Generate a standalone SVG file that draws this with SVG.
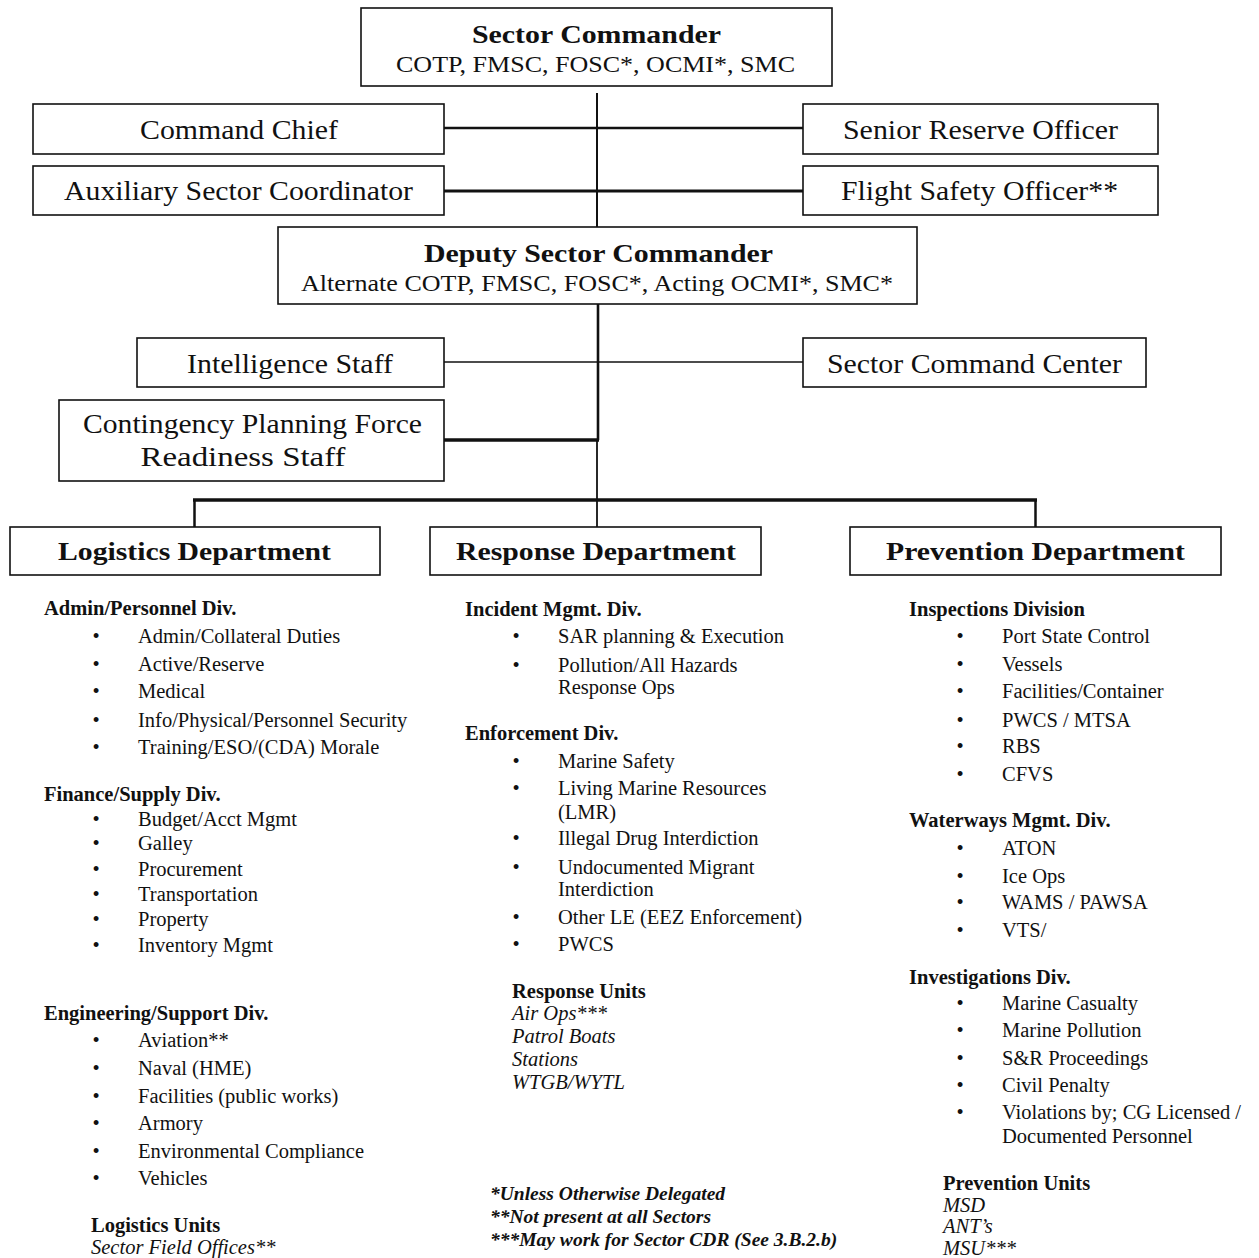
<svg xmlns="http://www.w3.org/2000/svg" width="1259" height="1258" viewBox="0 0 1259 1258">
<style>
.bg{fill:#fff}
.box{fill:#fff;stroke:#111;stroke-width:1.6}
.bt{font-family:"Liberation Serif","Times New Roman",serif;fill:#111;text-anchor:middle}
.b{font-weight:bold}
.ln{stroke:#111;fill:none}
.t{font-family:"Liberation Serif","Times New Roman",serif;font-size:20.5px;fill:#111}
.h{font-weight:bold}
.i{font-style:italic}
.fn{font-style:italic;font-weight:bold;font-size:19.5px}
.bul{text-anchor:middle}
</style>
<rect class="bg" x="0" y="0" width="1259" height="1258"/>

<g id="connectors">
<line class="ln" x1="597" y1="93" x2="597" y2="227" stroke-width="2"/>
<line class="ln" x1="444" y1="128" x2="803" y2="128" stroke-width="2.6"/>
<line class="ln" x1="444" y1="191" x2="803" y2="191" stroke-width="3"/>
<line class="ln" x1="598" y1="304" x2="598" y2="440" stroke-width="2.6"/>
<line class="ln" x1="597" y1="440" x2="597" y2="527" stroke-width="1.8"/>
<line class="ln" x1="444" y1="362" x2="803" y2="362" stroke-width="1.5"/>
<line class="ln" x1="444" y1="440" x2="599" y2="440" stroke-width="3.5"/>
<line class="ln" x1="193" y1="500" x2="1037" y2="500" stroke-width="3.5"/>
<line class="ln" x1="194.5" y1="500" x2="194.5" y2="527" stroke-width="2.5"/>
<line class="ln" x1="1035.5" y1="500" x2="1035.5" y2="527" stroke-width="2.5"/>
</g>

<g id="sector-commander">
<rect class="box" x="361" y="8" width="471" height="78"/>
<text class="bt b" x="596.5" y="43" font-size="25" textLength="249" lengthAdjust="spacingAndGlyphs">Sector Commander</text>
<text class="bt" x="595.5" y="72" font-size="24" textLength="399" lengthAdjust="spacingAndGlyphs">COTP, FMSC, FOSC*, OCMI*, SMC</text>
</g>

<g id="command-chief">
<rect class="box" x="33" y="104" width="411" height="50"/>
<text class="bt" x="239" y="139" font-size="27" textLength="198" lengthAdjust="spacingAndGlyphs">Command Chief</text>
</g>

<g id="senior-reserve-officer">
<rect class="box" x="803" y="104" width="355" height="50"/>
<text class="bt" x="980.5" y="139" font-size="27" textLength="275" lengthAdjust="spacingAndGlyphs">Senior Reserve Officer</text>
</g>

<g id="auxiliary-sector-coordinator">
<rect class="box" x="33" y="166" width="411" height="49"/>
<text class="bt" x="238.5" y="200" font-size="27" textLength="349" lengthAdjust="spacingAndGlyphs">Auxiliary Sector Coordinator</text>
</g>

<g id="flight-safety-officer">
<rect class="box" x="803" y="166" width="355" height="49"/>
<text class="bt" x="979.5" y="200" font-size="27" textLength="277" lengthAdjust="spacingAndGlyphs">Flight Safety Officer**</text>
</g>

<g id="deputy-sector-commander">
<rect class="box" x="278" y="227" width="639" height="77"/>
<text class="bt b" x="598.5" y="262" font-size="25" textLength="349" lengthAdjust="spacingAndGlyphs">Deputy Sector Commander</text>
<text class="bt" x="597" y="291" font-size="24" textLength="592" lengthAdjust="spacingAndGlyphs">Alternate COTP, FMSC, FOSC*, Acting OCMI*, SMC*</text>
</g>

<g id="intelligence-staff">
<rect class="box" x="137" y="338" width="307" height="49"/>
<text class="bt" x="290" y="373" font-size="27" textLength="206" lengthAdjust="spacingAndGlyphs">Intelligence Staff</text>
</g>

<g id="sector-command-center">
<rect class="box" x="803" y="338" width="343" height="49"/>
<text class="bt" x="974.5" y="373" font-size="27" textLength="295" lengthAdjust="spacingAndGlyphs">Sector Command Center</text>
</g>

<g id="contingency-planning">
<rect class="box" x="59" y="400" width="385" height="81"/>
<text class="bt" x="252.5" y="433" font-size="27" textLength="339" lengthAdjust="spacingAndGlyphs">Contingency Planning Force</text>
<text class="bt" x="243" y="466" font-size="27" textLength="205" lengthAdjust="spacingAndGlyphs">Readiness Staff</text>
</g>

<g id="logistics-department">
<rect class="box" x="10" y="527" width="370" height="48"/>
<text class="bt b" x="194.5" y="560" font-size="26" textLength="273" lengthAdjust="spacingAndGlyphs">Logistics Department</text>
</g>

<g id="response-department">
<rect class="box" x="430" y="527" width="331" height="48"/>
<text class="bt b" x="596" y="560" font-size="26" textLength="280" lengthAdjust="spacingAndGlyphs">Response Department</text>
</g>

<g id="prevention-department">
<rect class="box" x="850" y="527" width="371" height="48"/>
<text class="bt b" x="1035.5" y="560" font-size="26" textLength="299" lengthAdjust="spacingAndGlyphs">Prevention Department</text>
</g>

<g id="logistics-list" class="t">
<text class="t h" x="44" y="615">Admin/Personnel Div.</text>
<g class="bul">
<text class="t bul" x="96" y="643">•</text>
<text class="t bul" x="96" y="671">•</text>
<text class="t bul" x="96" y="698">•</text>
<text class="t bul" x="96" y="727">•</text>
<text class="t bul" x="96" y="754">•</text>
<text class="t bul" x="96" y="826">•</text>
<text class="t bul" x="96" y="850">•</text>
<text class="t bul" x="96" y="876">•</text>
<text class="t bul" x="96" y="901">•</text>
<text class="t bul" x="96" y="926">•</text>
<text class="t bul" x="96" y="952">•</text>
<text class="t bul" x="96" y="1047">•</text>
<text class="t bul" x="96" y="1075">•</text>
<text class="t bul" x="96" y="1103">•</text>
<text class="t bul" x="96" y="1130">•</text>
<text class="t bul" x="96" y="1158">•</text>
<text class="t bul" x="96" y="1185">•</text>
</g>
<text class="t" x="138" y="643">Admin/Collateral Duties</text>
<text class="t" x="138" y="671">Active/Reserve</text>
<text class="t" x="138" y="698">Medical</text>
<text class="t" x="138" y="727">Info/Physical/Personnel Security</text>
<text class="t" x="138" y="754">Training/ESO/(CDA) Morale</text>
<text class="t h" x="44" y="801">Finance/Supply Div.</text>
<text class="t" x="138" y="826">Budget/Acct Mgmt</text>
<text class="t" x="138" y="850">Galley</text>
<text class="t" x="138" y="876">Procurement</text>
<text class="t" x="138" y="901">Transportation</text>
<text class="t" x="138" y="926">Property</text>
<text class="t" x="138" y="952">Inventory Mgmt</text>
<text class="t h" x="44" y="1020">Engineering/Support Div.</text>
<text class="t" x="138" y="1047">Aviation**</text>
<text class="t" x="138" y="1075">Naval (HME)</text>
<text class="t" x="138" y="1103">Facilities (public works)</text>
<text class="t" x="138" y="1130">Armory</text>
<text class="t" x="138" y="1158">Environmental Compliance</text>
<text class="t" x="138" y="1185">Vehicles</text>
<text class="t h" x="91" y="1232">Logistics Units</text>
<text class="t i" x="91" y="1254">Sector Field Offices**</text>
</g>

<g id="response-list" class="t">
<text class="t h" x="465" y="616">Incident Mgmt. Div.</text>
<text class="t bul" x="516" y="643">•</text>
<text class="t bul" x="516" y="672">•</text>
<text class="t bul" x="516" y="768">•</text>
<text class="t bul" x="516" y="795">•</text>
<text class="t bul" x="516" y="845">•</text>
<text class="t bul" x="516" y="874">•</text>
<text class="t bul" x="516" y="924">•</text>
<text class="t bul" x="516" y="951">•</text>
<text class="t" x="558" y="643">SAR planning &amp; Execution</text>
<text class="t" x="558" y="672">Pollution/All Hazards</text>
<text class="t" x="558" y="694">Response Ops</text>
<text class="t h" x="465" y="740">Enforcement Div.</text>
<text class="t" x="558" y="768">Marine Safety</text>
<text class="t" x="558" y="795">Living Marine Resources</text>
<text class="t" x="558" y="819">(LMR)</text>
<text class="t" x="558" y="845">Illegal Drug Interdiction</text>
<text class="t" x="558" y="874">Undocumented Migrant</text>
<text class="t" x="558" y="896">Interdiction</text>
<text class="t" x="558" y="924">Other LE (EEZ Enforcement)</text>
<text class="t" x="558" y="951">PWCS</text>
<text class="t h" x="512" y="998">Response Units</text>
<text class="t i" x="512" y="1020">Air Ops***</text>
<text class="t i" x="512" y="1043">Patrol Boats</text>
<text class="t i" x="512" y="1066">Stations</text>
<text class="t i" x="512" y="1089">WTGB/WYTL</text>
</g>

<g id="footnotes" class="t">
<text class="t fn" x="490" y="1200">*Unless Otherwise Delegated</text>
<text class="t fn" x="490" y="1223">**Not present at all Sectors</text>
<text class="t fn" x="490" y="1246">***May work for Sector CDR (See 3.B.2.b)</text>
</g>

<g id="prevention-list" class="t">
<text class="t h" x="909" y="616">Inspections Division</text>
<text class="t bul" x="960" y="643">•</text>
<text class="t bul" x="960" y="671">•</text>
<text class="t bul" x="960" y="698">•</text>
<text class="t bul" x="960" y="727">•</text>
<text class="t bul" x="960" y="753">•</text>
<text class="t bul" x="960" y="781">•</text>
<text class="t bul" x="960" y="855">•</text>
<text class="t bul" x="960" y="883">•</text>
<text class="t bul" x="960" y="909">•</text>
<text class="t bul" x="960" y="937">•</text>
<text class="t bul" x="960" y="1010">•</text>
<text class="t bul" x="960" y="1037">•</text>
<text class="t bul" x="960" y="1065">•</text>
<text class="t bul" x="960" y="1092">•</text>
<text class="t bul" x="960" y="1119">•</text>
<text class="t" x="1002" y="643">Port State Control</text>
<text class="t" x="1002" y="671">Vessels</text>
<text class="t" x="1002" y="698">Facilities/Container</text>
<text class="t" x="1002" y="727">PWCS / MTSA</text>
<text class="t" x="1002" y="753">RBS</text>
<text class="t" x="1002" y="781">CFVS</text>
<text class="t h" x="909" y="827">Waterways Mgmt. Div.</text>
<text class="t" x="1002" y="855">ATON</text>
<text class="t" x="1002" y="883">Ice Ops</text>
<text class="t" x="1002" y="909">WAMS / PAWSA</text>
<text class="t" x="1002" y="937">VTS/</text>
<text class="t h" x="909" y="984">Investigations Div.</text>
<text class="t" x="1002" y="1010">Marine Casualty</text>
<text class="t" x="1002" y="1037">Marine Pollution</text>
<text class="t" x="1002" y="1065">S&amp;R Proceedings</text>
<text class="t" x="1002" y="1092">Civil Penalty</text>
<text class="t" x="1002" y="1119">Violations by; CG Licensed /</text>
<text class="t" x="1002" y="1143">Documented Personnel</text>
<text class="t h" x="943" y="1190">Prevention Units</text>
<text class="t i" x="943" y="1212">MSD</text>
<text class="t i" x="943" y="1233">ANT’s</text>
<text class="t i" x="943" y="1255">MSU***</text>
</g>
</svg>
